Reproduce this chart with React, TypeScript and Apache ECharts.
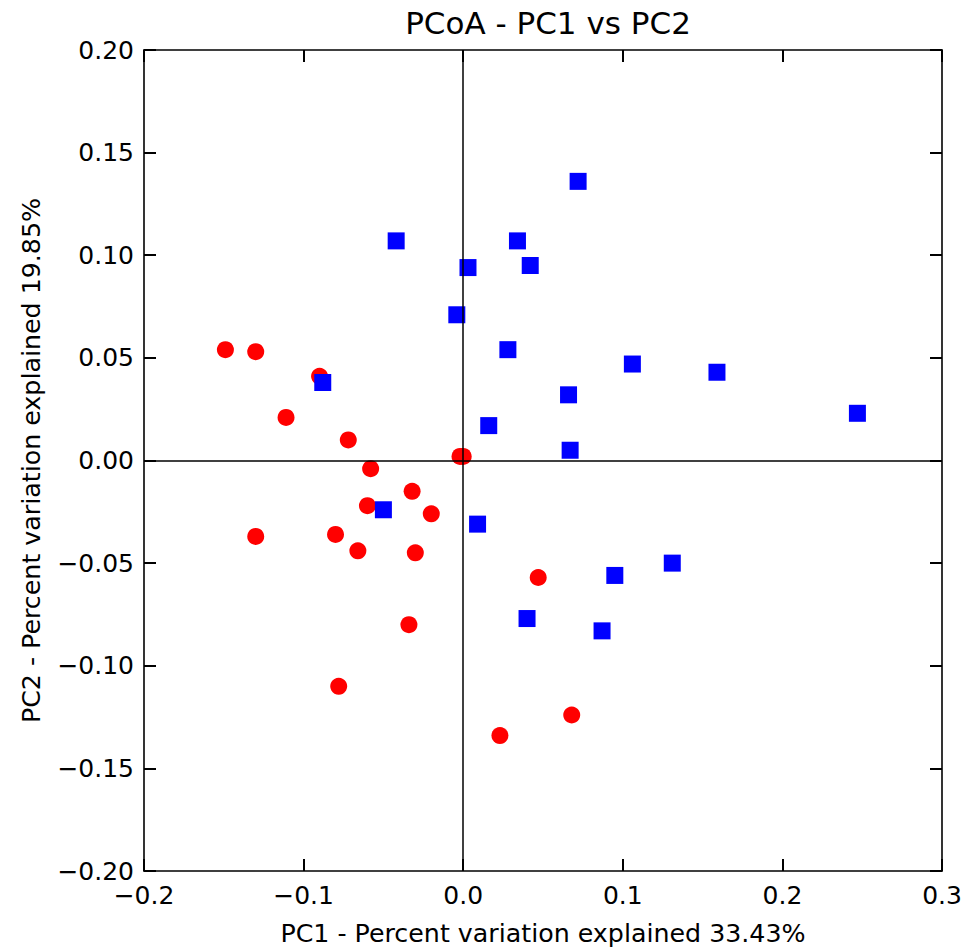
import React, { useEffect, useRef } from "react";
import * as echarts from "echarts";

const chartTitle = "PCoA - PC1 vs PC2";
const xAxisName = "PC1 - Percent variation explained 33.43%";
const yAxisName = "PC2 - Percent variation explained 19.85%";

const xMin = -0.2;
const xMax = 0.3;
const xStep = 0.1;
const yMin = -0.2;
const yMax = 0.2;
const yStep = 0.05;

const redPoints: [number, number][] = [
  [-0.149, 0.054], [-0.130, 0.053], [-0.090, 0.041], [-0.111, 0.021],
  [-0.072, 0.010], [-0.058, -0.004], [-0.002, 0.002], [0.000, 0.002],
  [-0.032, -0.015], [-0.060, -0.022], [-0.020, -0.026], [-0.130, -0.037],
  [-0.080, -0.036], [-0.066, -0.044], [-0.030, -0.045], [-0.034, -0.080],
  [-0.078, -0.110], [0.047, -0.057], [0.068, -0.124], [0.023, -0.134],
];

const bluePoints: [number, number][] = [
  [-0.042, 0.107], [0.003, 0.094], [-0.004, 0.071], [-0.088, 0.038],
  [0.072, 0.136], [0.034, 0.107], [0.042, 0.095], [0.028, 0.054],
  [0.106, 0.047], [0.159, 0.043], [0.066, 0.032], [0.247, 0.023],
  [0.067, 0.005], [0.016, 0.017], [-0.050, -0.024], [0.009, -0.031],
  [0.131, -0.050], [0.095, -0.056], [0.040, -0.077], [0.087, -0.083],
];

const FONT = "DejaVu Sans";
const minus = (s: string) => s.replace("-", "\u2212");

export default function App() {
  const ref = useRef<HTMLDivElement>(null);
  useEffect(() => {
    document.body.style.margin = "0";
    if (!ref.current) return;
    const chart = echarts.init(ref.current, undefined, { renderer: "svg" });
    const axisLine = { show: true, onZero: false, lineStyle: { color: "#000", width: 1.6 } };
    const axisTick = { show: true, inside: true, length: 12, lineStyle: { color: "#000", width: 2 } };
    const labelStyle = { fontFamily: FONT, fontSize: 25, color: "#000" };
    chart.setOption({
      animation: false,
      backgroundColor: "#fff",
      title: {
        text: chartTitle,
        left: 543,
        top: 2,
        textAlign: "center",
        textStyle: { fontFamily: FONT, fontSize: 31, fontWeight: "normal", color: "#000" },
      },
      grid: { left: 144, top: 50, width: 798, height: 824, containLabel: false },
      xAxis: [
        {
          type: "value", position: "bottom", min: xMin, max: xMax, interval: xStep,
          axisLine, axisTick, splitLine: { show: false },
          axisLabel: { ...labelStyle, margin: 12, formatter: (v: number) => minus(v.toFixed(1)) },
          name: xAxisName, nameLocation: "middle", nameGap: 50,
          nameTextStyle: { fontFamily: FONT, fontSize: 25.3, color: "#000" },
        },
        {
          type: "value", position: "top", min: xMin, max: xMax, interval: xStep,
          axisLine, axisTick, splitLine: { show: false }, axisLabel: { show: false },
        },
      ],
      yAxis: [
        {
          type: "value", position: "left", min: yMin, max: yMax, interval: yStep,
          axisLine, axisTick, splitLine: { show: false },
          axisLabel: { ...labelStyle, margin: 10, formatter: (v: number) => minus(v.toFixed(2)) },
          name: yAxisName, nameLocation: "middle", nameGap: 100,
          nameTextStyle: { fontFamily: FONT, fontSize: 25.3, color: "#000" },
        },
        {
          type: "value", position: "right", min: yMin, max: yMax, interval: yStep,
          axisLine, axisTick, splitLine: { show: false }, axisLabel: { show: false },
        },
      ],
      series: [
        {
          type: "scatter", data: [], z: 1, silent: true,
          markLine: {
            silent: true, symbol: "none", label: { show: false },
            lineStyle: { color: "#000", width: 1.5, type: "solid" },
            data: [{ xAxis: 0 }, { yAxis: 0 }],
          },
        },
        {
          type: "scatter", data: redPoints, z: 3, symbol: "circle", symbolSize: 17,
          itemStyle: { color: "#ff0000", opacity: 1 },
        },
        {
          type: "scatter", data: bluePoints, z: 4, symbol: "rect", symbolSize: 17,
          itemStyle: { color: "#0000ff", opacity: 1 },
        },
      ],
    });
    return () => chart.dispose();
  }, []);
  return <div ref={ref} style={{ width: 979, height: 951 }} />;
}
